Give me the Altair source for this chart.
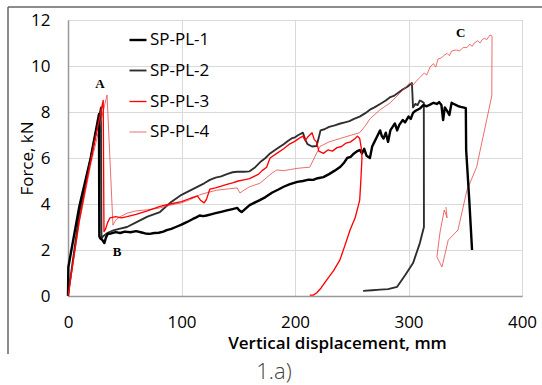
import altair as alt
import pandas as pd

series_names = ["SP-PL-1", "SP-PL-2", "SP-PL-3", "SP-PL-4"]
series_colors = ["#000000", "#2e2e2e", "#ff0000", "#e8474b"]
series_widths = [2.4, 0.8, 2.2, 0.8]
draw_order = ["SP-PL-2", "SP-PL-4", "SP-PL-1", "SP-PL-3"]

x_ticks = [0, 100, 200, 300, 400]
y_ticks = [0, 2, 4, 6, 8, 10, 12]

# (displacement mm, force kN)
pl1 = [(0, 0), (0.3, 1.25), (3, 2.0), (10, 3.9), (20, 6.0), (27.3, 7.9), (27.6, 2.6), (28.5, 2.5),
       (30, 2.45), (32, 2.3), (33.5, 2.55), (35, 2.7), (38, 2.72), (42, 2.78), (46, 2.74), (50, 2.8),
       (55, 2.77), (60, 2.82), (65, 2.76), (68, 2.72), (72, 2.7), (76, 2.74), (80, 2.75), (84, 2.8),
       (87, 2.86), (91, 2.92), (95, 3.0), (100, 3.1), (105, 3.22), (110, 3.35), (113, 3.42), (116, 3.5),
       (119, 3.47), (122, 3.5), (126, 3.55), (130, 3.6), (135, 3.66), (140, 3.72), (145, 3.78),
       (149, 3.83), (151, 3.72), (153, 3.65), (156, 3.78), (160, 3.95), (164, 4.05), (169, 4.17),
       (174, 4.3), (180, 4.5), (185, 4.62), (190, 4.75), (195, 4.85), (202, 4.96), (207, 5.0),
       (212, 5.06), (216, 5.05), (220, 5.12), (225, 5.17), (230, 5.3), (235, 5.45), (240, 5.62),
       (243, 5.78), (246, 6.0), (249, 6.05), (252, 6.2), (255, 6.3), (257, 6.35), (259, 6.2),
       (261, 6.4), (263, 6.1), (266, 6.0), (268, 6.5), (270, 6.7), (272, 6.9), (275, 7.2),
       (276.5, 6.95), (278, 6.85), (280, 7.1), (282, 6.7), (284, 7.2), (286, 7.35), (288, 7.5),
       (290, 7.2), (292, 7.45), (295, 7.65), (297, 7.55), (300, 7.8), (302, 7.7), (304, 7.96),
       (306, 8.05), (308, 8.1), (310, 8.15), (313, 8.3), (316, 8.25), (319, 8.32), (322, 8.4),
       (325, 8.35), (327, 8.43), (329, 8.3), (330.5, 7.65), (332, 8.2), (334, 8.05), (336, 7.87),
       (338, 8.4), (340, 8.35), (342, 8.3), (344, 8.25), (346, 8.22), (348, 8.2), (350.5, 8.17),
       (350.8, 6.35), (353.5, 4.2), (356, 2.0)]

pl2 = [(0, 0), (10, 3.6), (20, 6.0), (29, 8.2), (29.5, 2.5), (31, 2.6), (35, 2.75), (40, 2.85),
       (45, 2.92), (52, 3.0), (60, 3.2), (70, 3.45), (81, 3.65), (90, 4.05), (100, 4.4), (110, 4.65),
       (120, 4.9), (125, 5.05), (130, 5.15), (135, 5.2), (140, 5.3), (145, 5.38), (149, 5.4),
       (155, 5.4), (160, 5.42), (165, 5.6), (170, 5.85), (174, 6.0), (178, 6.2), (184, 6.4),
       (190, 6.6), (194, 6.75), (197, 6.85), (200, 6.9), (203, 7.0), (207, 7.1), (209, 6.8),
       (211, 6.6), (215, 6.5), (219, 6.52), (221, 6.9), (222.5, 7.2), (226, 7.25), (230, 7.35),
       (235, 7.42), (240, 7.5), (244, 7.55), (248, 7.6), (252, 7.7), (257, 7.8), (262, 7.95),
       (266, 8.1), (270, 8.2), (275, 8.35), (280, 8.5), (284, 8.65), (287, 8.7), (290, 8.8),
       (294, 8.95), (299, 9.1), (303, 9.26), (304, 8.2), (306, 8.35), (308, 8.3), (310, 8.5),
       (312, 8.45), (313.5, 8.4), (313.6, 3.0), (310, 2.3), (304, 1.43), (297, 0.9), (290, 0.4),
       (282, 0.3), (275, 0.28), (268, 0.25), (260, 0.22)]

pl3 = [(0, 0), (10, 3.3), (20, 5.9), (31, 8.5), (31.7, 2.8), (33, 2.9), (35, 3.2), (37, 3.4),
       (42, 3.45), (47, 3.4), (52, 3.45), (60, 3.55), (70, 3.7), (81, 3.9), (90, 4.0), (100, 4.1),
       (108, 4.25), (114, 4.35), (117, 4.15), (120, 4.05), (122, 4.2), (125, 4.65), (130, 4.7),
       (135, 4.78), (140, 4.85), (145, 4.92), (150, 5.0), (155, 5.05), (160, 5.1), (164, 5.2),
       (168, 5.3), (171, 5.45), (175, 5.6), (178, 6.0), (184, 6.2), (190, 6.4), (195, 6.6),
       (199, 6.7), (202, 6.8), (205, 6.9), (207, 6.95), (209, 6.75), (211, 6.9), (213, 7.0),
       (215, 7.1), (217, 6.8), (219, 6.7), (221, 6.3), (225, 6.2), (229, 6.35), (233, 6.3),
       (237, 6.45), (241, 6.5), (245, 6.65), (249, 6.7), (253, 6.85), (255, 6.95), (257, 6.85),
       (258.5, 6.4), (259, 6.0), (258, 5.0), (257, 4.17), (253, 3.4), (248.5, 2.87), (244, 2.2),
       (239.6, 1.57), (234, 1.1), (228, 0.7), (223, 0.35), (219, 0.13), (216, 0.04), (213, 0.04)]

pl4 = [(0, 0), (10, 3.2), (20, 5.7), (34.4, 8.74), (39.6, 3.08), (42, 3.3), (46, 3.45), (52, 3.6),
       (60, 3.7), (70, 3.75), (81, 3.83), (90, 3.95), (100, 4.05), (108, 4.2), (116, 4.4), (123, 4.5),
       (131, 4.6), (140, 4.65), (149, 4.7), (151.5, 4.48), (155, 4.6), (160, 4.75), (169, 4.9),
       (175, 5.15), (180, 5.35), (184, 5.48), (190, 5.45), (196, 5.5), (202, 5.55), (208, 5.58),
       (213, 5.6), (217, 6.0), (222, 6.5), (230, 6.7), (240, 6.85), (250, 7.0), (257, 7.1),
       (262, 7.4), (266, 7.7), (275, 8.1), (284, 8.4), (292, 8.8), (301, 9.26), (304, 9.17),
       (307, 9.35), (310, 9.5), (314, 9.7), (316, 9.6), (319, 9.96), (322, 10.1), (324, 9.95),
       (326, 10.3), (329, 10.35), (331, 10.45), (334, 10.55), (336, 10.45), (338, 10.65),
       (342, 10.7), (345, 10.65), (348, 10.8), (351.5, 10.8), (354, 10.95), (356, 10.85),
       (358, 11.0), (361, 11.1), (363, 11.0), (365, 11.15), (367, 11.2), (369, 11.15),
       (371.8, 11.35), (373.6, 11.3), (373.4, 8.7), (363, 6.3), (360, 5.6), (351.5, 4.6),
       (343.6, 2.87), (335, 2.43), (329.5, 1.26), (325, 1.7), (327.8, 2.78), (331.5, 3.74),
       (334, 3.4), (333, 3.87)]

curves = {"SP-PL-1": pl1, "SP-PL-2": pl2, "SP-PL-3": pl3, "SP-PL-4": pl4}

ann_labels = ["A", "B", "C"]
ann_x = [28.2, 43.2, 346.0]
ann_y = [9.2, 1.91, 11.43]

rows = []
for name in draw_order:
    for i, (xv, yv) in enumerate(curves[name]):
        rows.append({"series": name, "idx": i, "x": xv, "y": yv})
df = pd.DataFrame(rows)

ann_df = pd.DataFrame({"label": ann_labels, "x": ann_x, "y": ann_y})
one = pd.DataFrame({"caption": ["1.a)"]})

xs = alt.Scale(domain=[0, 400], nice=False)
ys = alt.Scale(domain=[0, 12], nice=False)

legend = alt.Legend(
    title=None, orient="none", legendX=60, legendY=10, symbolType="stroke",
    symbolSize=289, labelFontSize=17, labelFont="Open Sans", labelColor="#000",
    rowPadding=13, labelOffset=2, padding=0,
)

lines = alt.Chart(df).mark_line(strokeJoin="round").encode(
    x=alt.X("x:Q", scale=xs, axis=alt.Axis(
        values=x_ticks, title="Vertical displacement, mm", grid=True, gridColor="#d9d9d9",
        ticks=False, domainColor="#999", domainWidth=1.5, labelPadding=18, labelFlush=False,
        labelFontSize=17, labelFont="Open Sans", labelColor="#000",
        titleFontSize=17, titleFont="Open Sans", titleFontWeight=600, titleColor="#000",
        titleX=269, titleY=47, titleAlign="center", titleBaseline="middle")),
    y=alt.Y("y:Q", scale=ys, axis=alt.Axis(
        values=y_ticks, title="Force, kN", grid=True, gridColor="#d9d9d9",
        ticks=False, domainColor="#999", domainWidth=1.5, labelPadding=18, labelFlush=False,
        labelFontSize=17, labelFont="Open Sans", labelColor="#000",
        titleFontSize=17, titleFont="Open Sans", titleFontWeight="normal", titleColor="#000",
        titleX=-41, titleY=138, titleAlign="center", titleBaseline="middle")),
    color=alt.Color("series:N", scale=alt.Scale(domain=series_names, range=series_colors), legend=legend),
    strokeWidth=alt.StrokeWidth("series:N", scale=alt.Scale(domain=series_names, range=series_widths), legend=legend),
    detail="series:N",
    order="idx:Q",
)

ann = alt.Chart(ann_df).mark_text(
    font="Liberation Serif", fontWeight="bold", fontSize=13, color="#000"
).encode(x=alt.X("x:Q", scale=xs), y=alt.Y("y:Q", scale=ys), text="label:N")

frame_top = alt.Chart(one).mark_rule(color="#666", strokeWidth=1.5).encode(
    x=alt.value(-60), x2=alt.value(474), y=alt.value(-13))
frame_left = alt.Chart(one).mark_rule(color="#666", strokeWidth=1.5).encode(
    x=alt.value(-60), y=alt.value(-13), y2=alt.value(334))
caption = alt.Chart(one).mark_text(
    font="Open Sans", fontSize=22, fontWeight=300, color="#444"
).encode(x=alt.value(206), y=alt.value(352), text="caption:N")

chart = alt.layer(lines, ann, frame_top, frame_left, caption).properties(
    width=454, height=276,
    autosize=alt.AutoSizeParams(type="none"),
    padding={"left": 68, "top": 20, "right": 20, "bottom": 89},
    background="white",
).configure_view(stroke="#999", strokeWidth=1)

chart.save("out.html", embed_options={"renderer": "svg", "actions": False})
